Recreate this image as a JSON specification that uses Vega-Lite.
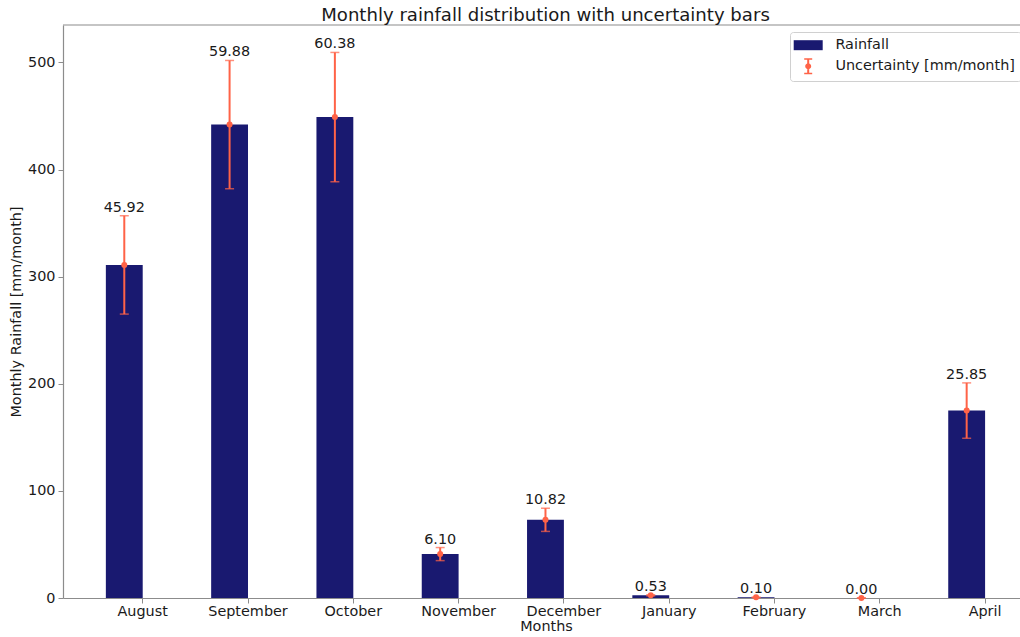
{
  "$schema": "https://vega.github.io/schema/vega-lite/v6.json",
  "autosize": {"type": "none"},
  "padding": {"left": 63, "top": 25, "right": 0, "bottom": 39},
  "width": 957,
  "height": 573,
  "background": "white",
  "config": {
    "view": {"stroke": null},
    "font": "DejaVu Sans",
    "axis": {"grid": false, "domainColor": "#8c8c8c", "tickColor": "#8c8c8c", "labelFont": "DejaVu Sans", "titleFont": "DejaVu Sans", "labelFontSize": 14.4, "titleFontSize": 14.4, "labelColor": "#1a1a1a", "titleColor": "#1a1a1a", "titleFontWeight": "normal", "tickSize": 5, "domainWidth": 1.2, "tickWidth": 1}
  },
  "title": {"text": "Monthly rainfall distribution with uncertainty bars", "font": "DejaVu Sans", "fontSize": 18.1, "fontWeight": "normal", "color": "#1a1a1a", "offset": -1, "dx": 4},
  "data": {"values": [
    {"month": "August", "rain": 311, "err": 45.92, "lo": 265.08, "hi": 356.92},
    {"month": "September", "rain": 442, "err": 59.88, "lo": 382.12, "hi": 501.88},
    {"month": "October", "rain": 449, "err": 60.38, "lo": 388.62, "hi": 509.38},
    {"month": "November", "rain": 41, "err": 6.10, "lo": 34.9, "hi": 47.1},
    {"month": "December", "rain": 73, "err": 10.82, "lo": 62.18, "hi": 83.82},
    {"month": "January", "rain": 2.5, "err": 0.53, "lo": 1.97, "hi": 3.03},
    {"month": "February", "rain": 0.6, "err": 0.10, "lo": 0.5, "hi": 0.7},
    {"month": "March", "rain": 0, "err": 0.00, "lo": 0, "hi": 0},
    {"month": "April", "rain": 175, "err": 25.85, "lo": 149.15, "hi": 200.85}
  ]},
  "layer": [
    {
      "mark": {"type": "bar"},
      "encoding": {
        "x": {"field": "month", "type": "nominal", "sort": null, "scale": {"type": "band", "paddingInner": 0.3, "paddingOuter": 0.407, "range": [0, 1001.8]}, "axis": {"title": "Months", "labelAngle": 0, "labelPadding": 1, "titlePadding": 2, "titleX": 483}},
        "xOffset": {"datum": "a", "scale": {"domain": ["a", "b"], "paddingInner": 0, "paddingOuter": 0}},
        "y": {"field": "rain", "type": "quantitative", "scale": {"domain": [0, 535], "nice": false}, "axis": {"title": "Monthly Rainfall [mm/month]", "values": [0, 100, 200, 300, 400, 500], "labelPadding": 3, "titlePadding": 4}},
        "color": {"datum": "Rainfall", "scale": {"domain": ["Rainfall", "Uncertainty [mm/month]"], "range": ["#191970", "#FF6347"]},
          "legend": {"title": null, "orient": "none", "legendX": 727, "legendY": 7, "padding": 6, "strokeColor": "#d0d0d0", "fillColor": "white", "cornerRadius": 3, "labelFont": "DejaVu Sans", "labelFontSize": 14.4, "labelColor": "#1a1a1a", "labelLimit": 400, "symbolSize": 100, "labelOffset": 20, "rowPadding": 6, "symbolOffset": 5,
            "encode": {"symbols": {"update": {"shape": {"signal": "datum.value === 'Rainfall' ? 'M-2.9,-1H2.9V1H-2.9Z' : 'M-0.2,-1.6H0.2V1.6H-0.2Z M-0.8,-1.6H0.8V-1.3H-0.8Z M-0.8,1.3H0.8V1.6H-0.8Z M-0.6,0A0.6,0.6 0 1,1 0.6,0A0.6,0.6 0 1,1 -0.6,0Z'"}, "strokeWidth": {"value": 0}}}}}}
      }
    },
    {
      "mark": {"type": "rule", "color": "#FF6347", "strokeWidth": 2},
      "encoding": {
        "x": {"field": "month", "type": "nominal", "sort": null},
        "xOffset": {"datum": "a"},
        "y": {"field": "lo", "type": "quantitative"},
        "y2": {"field": "hi"}
      }
    },
    {
      "mark": {"type": "tick", "color": "#FF6347", "size": 9, "thickness": 1.5, "orient": "horizontal"},
      "encoding": {
        "x": {"field": "month", "type": "nominal", "sort": null},
        "xOffset": {"datum": "a"},
        "y": {"field": "lo", "type": "quantitative"}
      }
    },
    {
      "mark": {"type": "tick", "color": "#FF6347", "size": 9, "thickness": 1.5, "orient": "horizontal"},
      "encoding": {
        "x": {"field": "month", "type": "nominal", "sort": null},
        "xOffset": {"datum": "a"},
        "y": {"field": "hi", "type": "quantitative"}
      }
    },
    {
      "mark": {"type": "point", "filled": true, "size": 36, "opacity": 1},
      "encoding": {
        "x": {"field": "month", "type": "nominal", "sort": null},
        "xOffset": {"datum": "a"},
        "y": {"field": "rain", "type": "quantitative"},
        "color": {"datum": "Uncertainty [mm/month]"}
      }
    },
    {
      "mark": {"type": "text", "baseline": "alphabetic", "dy": -4, "fontSize": 14.4, "font": "DejaVu Sans", "color": "#1a1a1a"},
      "encoding": {
        "x": {"field": "month", "type": "nominal", "sort": null},
        "xOffset": {"datum": "a"},
        "y": {"field": "hi", "type": "quantitative"},
        "text": {"field": "err", "type": "quantitative", "format": ".2f"}
      }
    },
    {
      "data": {"values": [{}]},
      "mark": {"type": "rule", "color": "#8c8c8c", "strokeWidth": 1.2},
      "encoding": {"y": {"datum": 535, "type": "quantitative"}}
    }
  ]
}
